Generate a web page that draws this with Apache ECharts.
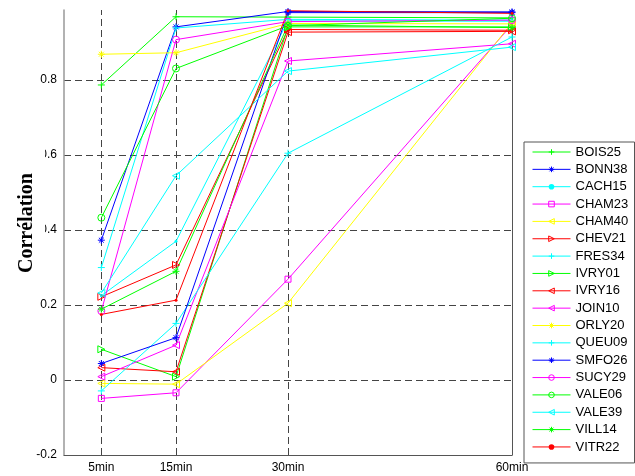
<!DOCTYPE html>
<html>
<head>
<meta charset="utf-8">
<script src="https://cdn.jsdelivr.net/npm/echarts@6/dist/echarts.min.js"></script>
<style>
html,body{margin:0;padding:0;background:#fff;}
#chart{width:635px;height:476px;}
</style>
</head>
<body>
<div id="chart"></div>
<script>
// x positions (minutes) and their tick labels
const xMinutes = [5, 15, 30, 60];
const xLabels = ['5min', '15min', '30min', '60min'];
const yTickLabels = ['-0.2', '0', '0.2', '0.4', '0.6', '0.8'];
const yTitle = 'Corrélation';

// station names (legend order)
const stations = ['BOIS25','BONN38','CACH15','CHAM23','CHAM40','CHEV21','FRES34','IVRY01','IVRY16',
                  'JOIN10','ORLY20','QUEU09','SMFO26','SUCY29','VALE06','VALE39','VILL14','VITR22'];

// correlation values at 5, 15, 30, 60 min
const BOIS25 = [0.787, 0.969, 0.968, 0.966];
const BONN38 = [0.373, 0.942, 0.983, 0.982];
const CACH15 = [0.225, 0.370, 0.958, 0.957];
const CHAM23 = [-0.049, -0.034, 0.269, 0.948];
const CHAM40 = [-0.009, -0.011, 0.205, 0.953];
const CHEV21 = [0.222, 0.307, 0.935, 0.933];
const FRES34 = [0.300, 0.939, 0.962, 0.960];
const IVRY01 = [0.082, 0.009, 0.942, 0.942];
const IVRY16 = [0.033, 0.022, 0.928, 0.930];
const JOIN10 = [0.009, 0.093, 0.851, 0.897];
const ORLY20 = [0.869, 0.873, 0.951, 0.950];
const QUEU09 = [-0.029, 0.151, 0.605, 0.915];
const SMFO26 = [0.044, 0.113, 0.980, 0.980];
const SUCY29 = [0.184, 0.908, 0.956, 0.960];
const VALE06 = [0.433, 0.831, 0.945, 0.965];
const VALE39 = [0.232, 0.545, 0.824, 0.888];
const VILL14 = [0.189, 0.290, 0.947, 0.940];
const VITR22 = [0.175, 0.213, 0.985, 0.978];

const values = [BOIS25,BONN38,CACH15,CHAM23,CHAM40,CHEV21,FRES34,IVRY01,IVRY16,
                JOIN10,ORLY20,QUEU09,SMFO26,SUCY29,VALE06,VALE39,VILL14,VITR22];

// styling: colour and marker per station
const G = '#00ff00', B = '#0000ff', C = '#00ffff', M = '#ff00ff', Y = '#ffff00', R = '#ff0000';
const colors = [G,B,C,M,Y,R,C,G,R,M,Y,C,B,M,G,C,G,R];
const markers = ['+','*','.','s','<','>','+','>','<','<','*','+','*','o','o','<','*','.'];

const SYM = {
  '+': 'path://M0,5L10,5M5,0L5,10',
  '*': 'path://M0,5L10,5M5,0L5,10M1.5,1.5L8.5,8.5M1.5,8.5L8.5,1.5',
  '.': 'circle',
  's': 'rect',
  'o': 'circle',
  '<': 'path://M0,5L10,0L10,10Z',
  '>': 'path://M10,5L0,0L0,10Z'
};

function itemStyleFor(i) {
  return markers[i] === '.'
    ? { color: colors[i], borderWidth: 0 }
    : { color: 'rgba(255,255,255,0)', borderColor: colors[i], borderWidth: 1 };
}

const series = stations.map((name, i) => {
  const mk = markers[i];
  const c = colors[i];
  const dot = mk === '.';
  return {
    name: name,
    type: 'line',
    data: xMinutes.map((x, j) => [x, values[i][j]]),
    symbol: SYM[mk],
    symbolSize: dot ? 3 : (mk === 's' ? 6 : 7),
    symbolKeepAspect: true,
    lineStyle: { color: c, width: 1 },
    itemStyle: itemStyleFor(i),
    emphasis: { disabled: true },
    animation: false,
    z: 3
  };
});

// vertical dashed grid lines at the tick positions (except the right border)
series.push({
  name: '__grid',
  type: 'line',
  data: [],
  silent: true,
  markLine: {
    silent: true,
    symbol: 'none',
    z: 1,
    animation: false,
    label: { show: false },
    lineStyle: { type: [7, 4], color: '#444', width: 1 },
    data: xMinutes.slice(0, 3).map(x => ({ xAxis: x }))
  }
});

const chart = echarts.init(document.getElementById('chart'), null, { renderer: 'canvas' });
chart.setOption({
  animation: false,
  backgroundColor: '#fff',
  grid: { left: 64, right: 123, top: 10, bottom: 21 },
  xAxis: {
    type: 'value',
    min: 0,
    max: 60,
    axisLine: { show: true, onZero: false, lineStyle: { color: '#555', width: 1 } },
    axisTick: { show: false },
    splitLine: { show: false },
    axisLabel: {
      customValues: xMinutes,
      formatter: v => xLabels[xMinutes.indexOf(v)] || '',
      color: '#000',
      fontFamily: 'Liberation Sans',
      fontSize: 12,
      margin: 7
    }
  },
  yAxis: [{
    type: 'value',
    min: -0.2,
    max: 0.987,
    interval: 0.2,
    axisLine: { show: true, onZero: false, lineStyle: { color: '#999', width: 1.5 } },
    axisTick: { show: false },
    splitLine: { show: true, showMaxLine: false, showMinLine: false, lineStyle: { type: [7, 4], color: '#444', width: 1 } },
    axisLabel: {
      showMaxLabel: false,
      formatter: v => {
        const k = Math.round((v + 0.2) / 0.2);
        return yTickLabels[k] !== undefined ? yTickLabels[k] : '';
      },
      color: '#000',
      fontFamily: 'Liberation Sans',
      fontSize: 12,
      margin: 7
    }
  }, {
    type: 'value',
    position: 'right',
    min: -0.2,
    max: 0.987,
    axisLine: { show: true, onZero: false, lineStyle: { color: '#555', width: 1 } },
    axisTick: { show: false },
    axisLabel: { show: false },
    splitLine: { show: false }
  }],
  legend: {
    data: stations.map((n, i) => ({
      name: n,
      itemStyle: itemStyleFor(i),
      lineStyle: { color: colors[i], width: 1 }
    })),
    orient: 'vertical',
    left: 524,
    top: 142,
    padding: [3, 4, 9, 8],
    itemWidth: 38,
    itemHeight: 7,
    itemGap: 3.35,
    borderColor: '#555',
    borderWidth: 1,
    backgroundColor: '#fff',
    selectedMode: false,
    textStyle: {
      color: '#000',
      fontFamily: 'Liberation Sans',
      fontSize: 13,
      lineHeight: 14,
      width: 55,
      overflow: 'truncate',
      ellipsis: ''
    }
  },
  graphic: [
    { type: 'rect', z: 100, shape: { x: 10, y: 145, width: 35, height: 147 }, style: { fill: '#fff' } },
    { type: 'text', z: 101, x: 27, y: 223, rotation: Math.PI / 2,
      style: { text: yTitle, font: 'bold 20px "Liberation Serif"', fill: '#000', align: 'center', verticalAlign: 'middle' } }
  ],
  series: series
});
</script>
</body>
</html>
